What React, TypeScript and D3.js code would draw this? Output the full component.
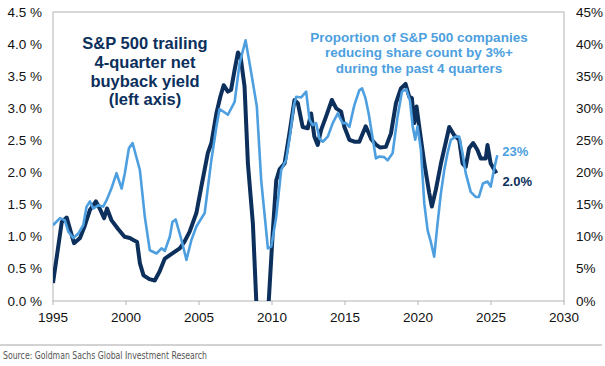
import React, { useEffect, useRef } from 'react';
import * as d3 from 'd3';

// S&P 500 trailing 4-quarter net buyback yield (left axis, %)
const buybackDates = [
  1995.0, 1995.6, 1995.94, 1996.44, 1996.85, 1997.19, 1997.53, 1997.94, 1998.2, 1998.5,
  1998.7, 1999.0, 1999.46, 1999.9, 2000.26, 2000.5, 2000.76, 2000.95, 2001.2, 2001.6,
  2001.97, 2002.3, 2002.66, 2003.1, 2003.68, 2004.0, 2004.36, 2004.82, 2005.16, 2005.6,
  2005.85, 2006.19, 2006.46, 2006.69, 2006.98, 2007.2, 2007.44, 2007.67, 2007.85, 2008.12,
  2008.35, 2008.69, 2009.0, 2009.25, 2009.45, 2009.7, 2010.06, 2010.29, 2010.52, 2010.86,
  2011.2, 2011.54, 2011.77, 2012.1, 2012.45, 2012.68, 2012.9, 2013.13, 2013.36, 2013.7,
  2014.1, 2014.4, 2014.73, 2014.96, 2015.3, 2015.64, 2015.98, 2016.42, 2016.8, 2017.1,
  2017.4, 2017.8, 2018.15, 2018.49, 2018.83, 2019.15, 2019.4, 2019.58, 2019.74, 2019.9,
  2020.08, 2020.43, 2020.77, 2020.95, 2021.22, 2021.57, 2021.86, 2022.14, 2022.48, 2022.82,
  2023.05, 2023.27, 2023.5, 2023.78, 2024.07, 2024.3, 2024.64, 2024.76, 2024.98, 2025.37,
];
const buybackYield = [
  0.28, 1.23, 1.3, 0.9, 0.98, 1.18, 1.42, 1.55, 1.44, 1.29,
  1.44, 1.26, 1.12, 1.0, 0.98, 0.95, 0.92, 0.59, 0.4, 0.34,
  0.32, 0.46, 0.66, 0.73, 0.82, 0.92, 1.08, 1.37, 1.78, 2.3,
  2.46, 2.92, 3.18, 3.36, 3.26, 3.29, 3.6, 3.87, 3.8, 3.34,
  2.14, 1.21, -0.4, -1.4, -1.6, -0.3, 1.1, 1.88, 2.05, 2.14,
  2.62, 3.13, 3.08, 2.71, 2.69, 2.92, 2.56, 2.43, 2.66, 2.87,
  3.13, 3.0, 2.95, 2.71, 2.51, 2.48, 2.48, 2.72, 2.52, 2.44,
  2.39, 2.4, 2.61, 3.08, 3.31, 3.38, 3.18, 3.16, 2.77, 3.03,
  2.72, 2.15, 1.68, 1.47, 1.73, 2.14, 2.43, 2.71, 2.58, 2.51,
  2.14, 2.09, 2.38, 2.46, 2.35, 2.22, 2.22, 2.43, 2.14, 1.99,
];

// Proportion of S&P 500 companies reducing share count by 3%+ (right axis, %)
const shareDates = [
  1995.0, 1995.48, 1995.8, 1996.05, 1996.39, 1996.73, 1997.07, 1997.3, 1997.53, 1997.76,
  1998.1, 1998.44, 1998.67, 1999.0, 1999.35, 1999.7, 1999.92, 2000.2, 2000.45, 2000.95,
  2001.29, 2001.63, 2002.09, 2002.43, 2002.66, 2003.0, 2003.18, 2003.4, 2003.8, 2004.14,
  2004.48, 2004.82, 2005.39, 2005.85, 2006.19, 2006.41, 2006.98, 2007.44, 2007.78, 2008.19,
  2008.58, 2008.96, 2009.26, 2009.72, 2009.95, 2010.29, 2010.63, 2010.97, 2011.25, 2011.5,
  2011.66, 2012.0, 2012.34, 2012.57, 2012.79, 2013.02, 2013.25, 2013.48, 2013.82, 2014.16,
  2014.5, 2014.84, 2015.07, 2015.3, 2015.64, 2015.98, 2016.17, 2016.4, 2016.62, 2016.9,
  2017.12, 2017.35, 2017.69, 2017.92, 2018.26, 2018.6, 2018.9, 2019.2, 2019.45, 2019.65,
  2019.81, 2019.97, 2020.2, 2020.43, 2020.66, 2020.88, 2021.11, 2021.34, 2021.57, 2021.8,
  2022.02, 2022.25, 2022.59, 2022.82, 2023.05, 2023.27, 2023.61, 2023.95, 2024.17, 2024.45,
  2024.76, 2024.98, 2025.2, 2025.43,
];
const shareProportion = [
  11.8, 12.9, 12.6, 10.8, 9.8, 10.5, 11.8, 14.7, 15.5, 14.4,
  14.9, 14.7, 15.7, 17.5, 19.9, 17.5, 19.9, 23.8, 24.6, 20.4,
  13.1, 7.9, 7.4, 8.2, 7.8, 10.0, 12.3, 12.7, 9.5, 6.4,
  9.5, 11.6, 13.7, 22.0, 27.1, 29.9, 29.0, 31.0, 37.0, 40.6,
  35.5, 30.3, 18.8, 8.2, 8.5, 13.1, 20.4, 22.0, 26.1, 30.5,
  31.8, 31.7, 32.6, 28.2, 27.4, 27.7, 25.3, 24.8, 25.6, 27.7,
  29.2, 27.7, 27.7, 27.1, 30.5, 32.8, 33.1, 31.6, 29.2, 25.3,
  22.2, 22.5, 22.4, 21.9, 23.0, 28.7, 32.6, 33.0, 31.2, 27.0,
  25.1, 27.2, 23.5, 15.2, 11.0, 9.2, 6.9, 12.1, 16.8, 20.4,
  23.0, 25.1, 25.6, 25.6, 23.0, 19.9, 17.0, 16.2, 16.2, 18.3,
  18.6, 17.8, 20.4, 22.7,
];

const yearTicks = [1995, 2000, 2005, 2010, 2015, 2020, 2025, 2030];
const leftTicks = [0, 0.5, 1, 1.5, 2, 2.5, 3, 3.5, 4, 4.5];
const rightTicks = [0, 5, 10, 15, 20, 25, 30, 35, 40, 45];

const leftNote = ['S&P 500 trailing', '4-quarter net', 'buyback yield', '(left axis)'];
const rightNote = ['Proportion of S&P 500 companies', 'reducing share count by 3%+', 'during the past 4 quarters'];

const DARK = '#0c2f5c';
const LIGHT = '#4d9fe0';
const FONT = 'Liberation Sans, Arial, sans-serif';

const App: React.FC = () => {
  const svgRef = useRef<SVGSVGElement | null>(null);

  useEffect(() => {
    if (!svgRef.current) return;
    const width = 605;
    const height = 366;
    const margin = { top: 12, right: 41, bottom: 65, left: 53 };
    const plotRight = width - margin.right;
    const plotBottom = height - margin.bottom;

    const svg = d3.select(svgRef.current).html('');

    svg.append('rect').attr('width', width).attr('height', height).attr('fill', '#fff');

    const x = d3.scaleLinear().domain([1995, 2030]).range([margin.left, plotRight]);
    const yLeft = d3.scaleLinear().domain([0, 4.5]).range([plotBottom, margin.top]);
    const yRight = d3.scaleLinear().domain([0, 45]).range([plotBottom, margin.top]);

    svg.append('clipPath').attr('id', 'plot-clip')
      .append('rect')
      .attr('x', margin.left)
      .attr('y', margin.top - 5)
      .attr('width', plotRight - margin.left)
      .attr('height', plotBottom - margin.top + 5);

    // Frame
    svg.append('rect')
      .attr('x', margin.left)
      .attr('y', margin.top)
      .attr('width', plotRight - margin.left)
      .attr('height', plotBottom - margin.top)
      .attr('fill', 'none')
      .attr('stroke', '#b3b3b3')
      .attr('stroke-width', 1);

    // Bottom ticks (pointing outward)
    svg.selectAll('.x-tick')
      .data(yearTicks)
      .enter()
      .append('line')
      .attr('x1', d => x(d))
      .attr('x2', d => x(d))
      .attr('y1', plotBottom)
      .attr('y2', plotBottom + 4)
      .attr('stroke', '#b3b3b3');

    svg.selectAll('.x-label')
      .data(yearTicks)
      .enter()
      .append('text')
      .attr('x', d => x(d))
      .attr('y', plotBottom + 21)
      .attr('text-anchor', 'middle')
      .attr('font-family', FONT)
      .attr('font-size', 13.5)
      .attr('fill', '#111')
      .text(d => d);

    svg.selectAll('.yl-label')
      .data(leftTicks)
      .enter()
      .append('text')
      .attr('x', 42)
      .attr('y', d => yLeft(d) + 4.5)
      .attr('text-anchor', 'end')
      .attr('font-family', FONT)
      .attr('font-size', 13.5)
      .attr('fill', '#111')
      .text(d => `${d.toFixed(1)} %`);

    svg.selectAll('.yr-label')
      .data(rightTicks)
      .enter()
      .append('text')
      .attr('x', 576)
      .attr('y', d => yRight(d) + 4.5)
      .attr('font-family', FONT)
      .attr('font-size', 13.5)
      .attr('fill', '#111')
      .text(d => `${d}%`);

    // Series
    const buyback = buybackDates.map((t, i) => [t, buybackYield[i]] as [number, number]);
    const share = shareDates.map((t, i) => [t, shareProportion[i]] as [number, number]);

    const lines = svg.append('g').attr('clip-path', 'url(#plot-clip)');

    lines.append('path')
      .datum(buyback)
      .attr('fill', 'none')
      .attr('stroke', DARK)
      .attr('stroke-width', 4)
      .attr('stroke-linejoin', 'round')
      .attr('d', d3.line<[number, number]>().x(d => x(d[0])).y(d => yLeft(d[1])));

    lines.append('path')
      .datum(share)
      .attr('fill', 'none')
      .attr('stroke', LIGHT)
      .attr('stroke-width', 2.6)
      .attr('stroke-linejoin', 'round')
      .attr('d', d3.line<[number, number]>().x(d => x(d[0])).y(d => yRight(d[1])));

    // Annotations
    svg.selectAll('.left-note')
      .data(leftNote)
      .enter()
      .append('text')
      .attr('x', 145)
      .attr('y', (d, i) => 49 + i * 18.8)
      .attr('text-anchor', 'middle')
      .attr('font-family', FONT)
      .attr('font-weight', 'bold')
      .attr('font-size', 16.5)
      .attr('fill', DARK)
      .text(d => d);

    svg.selectAll('.right-note')
      .data(rightNote)
      .enter()
      .append('text')
      .attr('x', 419)
      .attr('y', (d, i) => 41.5 + i * 15.8)
      .attr('text-anchor', 'middle')
      .attr('font-family', FONT)
      .attr('font-weight', 'bold')
      .attr('font-size', 13.5)
      .attr('fill', LIGHT)
      .text(d => d);

    const lastShare = share[share.length - 1];
    const lastBuyback = buyback[buyback.length - 1];

    svg.append('text')
      .attr('x', x(lastShare[0]) + 5)
      .attr('y', yRight(lastShare[1]) + 1)
      .attr('font-family', FONT)
      .attr('font-weight', 'bold')
      .attr('font-size', 13)
      .attr('fill', LIGHT)
      .text(`${Math.round(lastShare[1])}%`);

    svg.append('text')
      .attr('x', x(lastBuyback[0]) + 6)
      .attr('y', yLeft(lastBuyback[1]) + 13)
      .attr('font-family', FONT)
      .attr('font-weight', 'bold')
      .attr('font-size', 13)
      .attr('fill', DARK)
      .text(`${lastBuyback[1].toFixed(1)}%`);

    // Source
    svg.append('line')
      .attr('x1', 0)
      .attr('x2', 602)
      .attr('y1', 345)
      .attr('y2', 345)
      .attr('stroke', '#a6a6a6')
      .attr('stroke-width', 1);

    svg.append('text')
      .attr('x', 3)
      .attr('y', 359)
      .attr('font-family', 'Liberation Sans Narrow, DejaVu Sans Condensed, sans-serif')
      .attr('font-size', 11)
      .attr('fill', '#555')
      .attr('textLength', 204)
      .attr('lengthAdjust', 'spacingAndGlyphs')
      .text('Source: Goldman Sachs Global Investment Research');
  }, []);

  return (
    <div style={{ position: 'absolute', left: 0, top: 0 }}>
      <svg ref={svgRef} width={605} height={366} style={{ display: 'block' }}></svg>
    </div>
  );
};

export default App;
